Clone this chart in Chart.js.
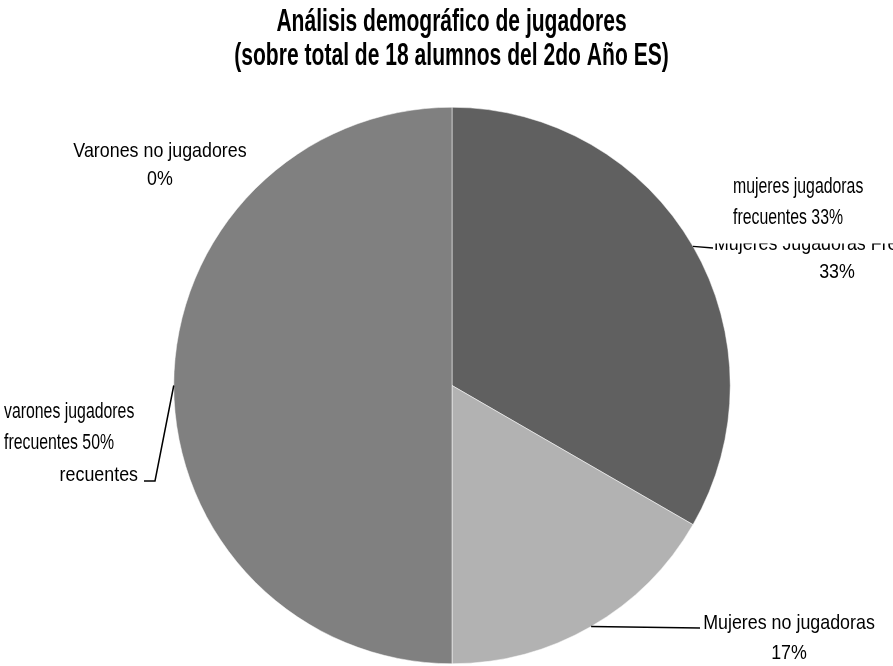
<!DOCTYPE html>
<html>
<head>
<meta charset="utf-8">
<script src="https://cdn.jsdelivr.net/npm/chart.js@4.4.1/dist/chart.umd.min.js"></script>
<style>
  html, body { margin: 0; padding: 0; background: #fff; }
  #wrap { width: 893px; height: 666px; }
</style>
</head>
<body>
<div id="wrap"><canvas id="pie" width="893" height="666"></canvas></div>
<script>
// Datos (18 alumnos)
const categories = ['Mujeres Jugadoras Frecuentes', 'Mujeres no jugadoras', 'Varones jugadores frecuentes', 'Varones no jugadores'];
const counts = [6, 3, 9, 0];
const sliceColors = ['#606060', '#b2b2b2', '#808080', '#9a9a9a'];
const titleLines = ['Análisis demográfico de jugadores', '(sobre total de 18 alumnos del 2do Año ES)'];

const total = counts.reduce((s, v) => s + v, 0);
const pct = i => Math.round(counts[i] / total * 100) + '%';

const FONT = "'Liberation Sans', Arial, sans-serif";

// posición de las etiquetas (layout del gráfico original, no datos)
const labelLayout = [
  { lines: () => [categories[0], pct(0)], x: 837, y: 250, step: 28, align: 'center',
    leader: [[713, 248]], clip: { x: 0, y: 243.5, w: 893, h: 425 } },
  { lines: () => [categories[1], pct(1)], x: 789, y: 629, step: 30, align: 'center',
    leader: [[700, 628]] },
  { lines: () => ['Varones jugadores', 'frecuentes'], x: 138, y: 451, step: 30, align: 'right',
    leader: [[155, 481], [144, 481]], clip: { x: 60, y: 462, w: 200, h: 200 } },
  { lines: () => [categories[3], pct(3)], x: 160, y: 157, step: 28, align: 'center', leader: null }
];

// cuadros de texto superpuestos
const notes = [
  { lines: () => ['mujeres jugadoras', 'frecuentes ' + pct(0)], x: 733, y: 193, step: 31 },
  { lines: () => ['varones jugadores', 'frecuentes ' + pct(2)], x: 4, y: 418, step: 31 }
];

function drawText(ctx, text, x, y, align, font, sx) {
  ctx.save();
  ctx.font = font;
  ctx.textAlign = align;
  ctx.textBaseline = 'alphabetic';
  ctx.translate(x, y);
  ctx.scale(sx, 1);
  ctx.fillText(text, 0, 0);
  ctx.restore();
}

const labelsPlugin = {
  id: 'excelLabels',
  afterDraw(chart) {
    const ctx = chart.ctx;
    const meta = chart.getDatasetMeta(0);
    ctx.save();
    ctx.fillStyle = '#000';

    labelLayout.forEach((l, i) => {
      ctx.save();
      if (l.clip) {
        ctx.beginPath();
        ctx.rect(l.clip.x, l.clip.y, l.clip.w, l.clip.h);
        ctx.clip();
      }
      l.lines().forEach((t, k) => {
        drawText(ctx, t, l.x, l.y + k * l.step, l.align, '21px ' + FONT, 0.85);
      });
      ctx.restore();

      if (l.leader && counts[i] > 0) {
        const a = meta.data[i];
        const mid = (a.startAngle + a.endAngle) / 2;
        const sx = a.x + Math.cos(mid) * a.outerRadius;
        const sy = a.y + Math.sin(mid) * a.outerRadius;
        ctx.beginPath();
        ctx.moveTo(sx, sy);
        l.leader.forEach(p => ctx.lineTo(p[0], p[1]));
        ctx.strokeStyle = '#000';
        ctx.lineWidth = 1.5;
        ctx.stroke();
      }
    });

    notes.forEach(n => {
      n.lines().forEach((t, k) => {
        drawText(ctx, t, n.x, n.y + k * n.step, 'left', '22px ' + FONT, 0.72);
      });
    });

    titleLines.forEach((t, k) => {
      drawText(ctx, t, chart.width / 2 + 5, 31 + k * 34, 'center', 'bold 31px ' + FONT, 0.68);
    });
    ctx.restore();
  }
};

new Chart(document.getElementById('pie'), {
  type: 'pie',
  data: {
    labels: categories,
    datasets: [{
      data: counts,
      backgroundColor: sliceColors,
      borderColor: '#ffffff',
      borderWidth: 0.5
    }]
  },
  options: {
    responsive: false,
    animation: false,
    layout: { padding: { top: 107, bottom: 2, left: 100, right: 89 } },
    plugins: {
      legend: { display: false },
      tooltip: { enabled: false },
      title: { display: false }
    }
  },
  plugins: [labelsPlugin]
});
</script>
</body>
</html>
